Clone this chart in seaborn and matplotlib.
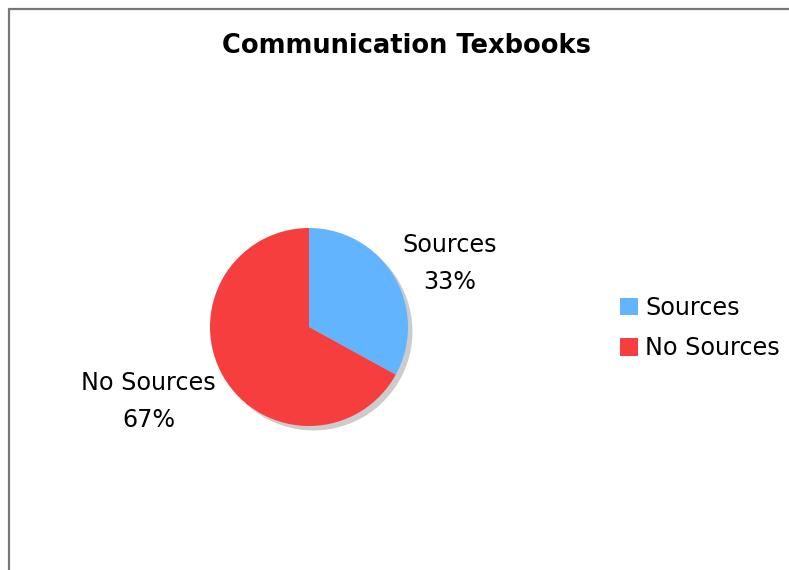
import numpy as np
import matplotlib
matplotlib.use("Agg")
import matplotlib.pyplot as plt
import seaborn as sns
from matplotlib.lines import Line2D

categories = ["Sources", "No Sources"]
values = [33, 67]
colors = ["#63B4FF", "#F73E3E"]
title = "Communication Texbooks"

sns.set_theme(style="white")
plt.rcParams['font.family'] = ['DejaVu Sans']
plt.rcParams['text.color'] = 'black'

W, H = 789, 570
fig = plt.figure(figsize=(W / 100, H / 100), dpi=100)
fig.patch.set_facecolor("white")

# pie axes: center (309, 327) px, radius 99 px
cx, cy, R = 309, 327, 99
half = 150
ax = fig.add_axes([(cx - half) / W, (H - cy - half) / H, 2 * half / W, 2 * half / H])
lim = half / R

# shadow
off = 0.045
ax.pie(values, colors=["#cccccc"] * len(values), startangle=90, counterclock=False,
       radius=1.0, center=(off, -off), frame=True,
       wedgeprops=dict(linewidth=0, zorder=1))
wedges, _ = ax.pie(values, colors=colors, startangle=90, counterclock=False,
                   radius=1.0, center=(0, 0), frame=True,
                   wedgeprops=dict(linewidth=0, zorder=2))
ax.set_xlim(-lim, lim)
ax.set_ylim(-lim, lim)
ax.set_aspect("equal")
ax.axis("off")

total = sum(values)
fs = 17.2
for w, cat, v in zip(wedges, categories, values):
    ang = np.deg2rad((w.theta1 + w.theta2) / 2 + 6)
    d = 1.17
    x, y = d * np.cos(ang), d * np.sin(ang) - 0.055
    ha = "left" if x > 0 else "right"
    ax.text(x, y, f"{cat}\n{round(100 * v / total)}%", ha=ha, va="center",
            multialignment="center", fontsize=fs, linespacing=1.65, color="black")

fig.text(406.5 / W, 1 - 53 / H, title, ha="center", va="baseline",
         fontsize=18.5, fontweight="bold", color="black")

handles = [plt.Rectangle((0, 0), 1, 1, facecolor=c, edgecolor="none") for c in colors]
leg = fig.legend(handles, categories, loc="upper left",
                 bbox_to_anchor=(620 / W, 1 - 296 / H), frameon=False, fontsize=fs,
                 handlelength=0.75, handleheight=0.75, handletextpad=0.3,
                 labelspacing=0.68, borderpad=0, borderaxespad=0)
for t in leg.get_texts():
    t.set_color("black")

# border (top and left)
fig.add_artist(Line2D([8.5 / W, 1], [1 - 8.5 / H, 1 - 8.5 / H], color="#777777", lw=1.6,
                      transform=fig.transFigure))
fig.add_artist(Line2D([8.5 / W, 8.5 / W], [0, 1 - 8.5 / H], color="#777777", lw=1.6,
                      transform=fig.transFigure))

fig.savefig("out.png", dpi=100, facecolor="white")
